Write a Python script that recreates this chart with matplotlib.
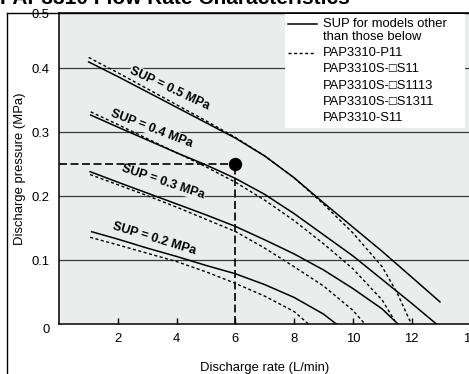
import matplotlib.pyplot as plt
from matplotlib.lines import Line2D
from matplotlib.patches import Rectangle

plt.rcParams['font.family'] = ['Liberation Sans', 'DejaVu Sans']

# discharge rate (L/min) / discharge pressure (MPa)
sup05_x = [1.0, 2, 3, 4, 5, 6, 7, 8, 9, 10, 11, 12, 12.97]
sup05_y = [0.410, 0.387, 0.363, 0.339, 0.315, 0.291, 0.263, 0.229, 0.190, 0.152, 0.114, 0.074, 0.035]
sup05d_x = [1.0, 2, 3, 4, 5, 6, 7, 8, 9, 10, 11, 11.5, 12.0]
sup05d_y = [0.417, 0.393, 0.368, 0.343, 0.318, 0.292, 0.263, 0.229, 0.188, 0.143, 0.090, 0.050, 0.0]

sup04_x = [1.07, 2, 3, 4, 5, 6, 7, 8, 9, 10, 11, 12, 12.86]
sup04_y = [0.327, 0.308, 0.288, 0.268, 0.249, 0.228, 0.203, 0.173, 0.140, 0.107, 0.070, 0.033, 0.0]
sup04d_x = [1.07, 2, 3, 4, 5, 6, 7, 8, 9, 10, 11, 11.5]
sup04d_y = [0.332, 0.312, 0.290, 0.268, 0.246, 0.222, 0.194, 0.162, 0.126, 0.087, 0.038, 0.0]

sup03_x = [1.05, 2, 3, 4, 5, 6, 7, 8, 9, 10, 11, 11.55]
sup03_y = [0.2385, 0.222, 0.205, 0.188, 0.171, 0.153, 0.132, 0.110, 0.085, 0.056, 0.024, 0.0]
sup03d_x = [1.05, 2, 3, 4, 5, 6, 7, 8, 9, 10, 10.42]
sup03d_y = [0.234, 0.218, 0.201, 0.183, 0.164, 0.145, 0.119, 0.090, 0.060, 0.022, 0.0]

sup02_x = [1.1, 2, 3, 4, 5, 6, 7, 8, 9, 9.45]
sup02_y = [0.1447, 0.133, 0.119, 0.106, 0.092, 0.079, 0.062, 0.042, 0.016, 0.0]
sup02d_x = [1.05, 2, 3, 4, 5, 6, 7, 8, 8.5]
sup02d_y = [0.136, 0.124, 0.111, 0.098, 0.082, 0.064, 0.044, 0.020, 0.0]

sup_labels = ['SUP = 0.5 MPa', 'SUP = 0.4 MPa', 'SUP = 0.3 MPa', 'SUP = 0.2 MPa']
op_rate, op_pressure = 6, 0.25

x_ticks = [2, 4, 6, 8, 10, 12, 14]
y_ticks = [0, 0.1, 0.2, 0.3, 0.4]
y_top = 0.486

legend_solid = ['SUP for models other', 'than those below']
legend_dashed = ['PAP3310-P11', 'PAP3310S-\u25a1S11', 'PAP3310S-\u25a1S1113',
                 'PAP3310S-\u25a1S1311', 'PAP3310-S11']

W, H = 469, 374
BG = '#ebecec'


def fx(px):
    return px / W


def fy(py):
    return 1 - py / H


fig = plt.figure(figsize=(W / 100, H / 100), dpi=100)
ax = fig.add_axes([fx(59.3), fy(324.3), 410.9 / W, 311 / H])
ax.set_facecolor(BG)
ax.set_xlim(0, 14)
ax.set_ylim(0, y_top)

for y in y_ticks[1:]:
    ax.axhline(y, color='#3a3a3a', lw=0.9, zorder=1)

curves = [(sup05_x, sup05_y, sup05d_x, sup05d_y),
          (sup04_x, sup04_y, sup04d_x, sup04d_y),
          (sup03_x, sup03_y, sup03d_x, sup03d_y),
          (sup02_x, sup02_y, sup02d_x, sup02d_y)]
for xs, ys, xd, yd in curves:
    ax.plot(xs, ys, color='k', lw=1.1, zorder=3)
    ax.plot(xd, yd, color='k', lw=1.0, dashes=(2.2, 1.8), zorder=3)

# curve labels: (x, y, angle) -- text runs down along the curve
label_pos = [(3.77, 0.369, -25), (3.15, 0.306, -21), (3.54, 0.222, -18.5), (3.23, 0.134, -17)]
for text, (lx, ly, ang) in zip(sup_labels, label_pos):
    ax.text(lx, ly, text, rotation=ang, rotation_mode='anchor', ha='center', va='center',
            fontsize=9, fontweight='bold', zorder=2,
            bbox=dict(fc=BG, ec='none', pad=0.4))

# operating point
ax.plot([0, op_rate], [op_pressure, op_pressure], color='k', lw=1.2, dashes=(4.8, 2.1), zorder=3)
ax.plot([op_rate, op_rate], [0, op_pressure], color='k', lw=1.2, dashes=(4.8, 2.1), zorder=3)
ax.plot(op_rate, op_pressure, 'o', color='k', ms=8.6, zorder=5)

ax.set_xticks(x_ticks)
ax.set_yticks(y_ticks + [y_top], ['0', '0.1', '0.2', '0.3', '0.4', '0.5'])
ax.tick_params(axis='x', direction='in', length=4, width=1, pad=6, labelsize=9.4)
ax.tick_params(axis='y', length=0, pad=7, labelsize=9.4)
ax.get_yticklabels()[0].set_va('top')
ax.spines['right'].set_visible(False)
for s in ['left', 'bottom', 'top']:
    ax.spines[s].set_linewidth(1.1)

ax.set_xlabel('Discharge rate (L/min)', fontsize=9.4, labelpad=12.5)
ax.set_ylabel('Discharge pressure (MPa)', fontsize=9.4, va='center')
ax.yaxis.set_label_coords((20 - 59.3) / 410.9, 0.5)

# legend box
fig.add_artist(Rectangle((fx(285), fy(128)), fx(465) - fx(285), fy(13.5) - fy(128),
                         transform=fig.transFigure, fc='white', ec='none', zorder=4))
fig.add_artist(Line2D([fx(288), fx(317)], [fy(24), fy(24)], transform=fig.transFigure,
                      color='k', lw=1.1, zorder=5))
fig.add_artist(Line2D([fx(288), fx(315)], [fy(53.3), fy(53.3)], transform=fig.transFigure,
                      color='k', lw=1.0, dashes=(2.2, 1.8), zorder=5))
for i, t in enumerate(legend_solid):
    fig.text(fx(322.7), fy(24 + 12.7 * i), t, fontsize=9.4, va='center', zorder=6)
for i, t in enumerate(legend_dashed):
    fig.text(fx(322.7), fy(53.3 + 16.2 * i), t, fontsize=9.4, va='center', zorder=6)

# outer frame and clipped title
fig.add_artist(Line2D([fx(6.5), fx(6.5)], [fy(13.3), 0], transform=fig.transFigure, color='k', lw=1))
fig.add_artist(Line2D([fx(6.5), 1], [fy(13.3), fy(13.3)], transform=fig.transFigure, color='k', lw=1))
fig.text(fx(0), fy(4.5), 'PAP3310 Flow Rate Characteristics', fontsize=15, fontweight='bold',
         va='baseline', ha='left')

fig.savefig('out.png', dpi=100)
